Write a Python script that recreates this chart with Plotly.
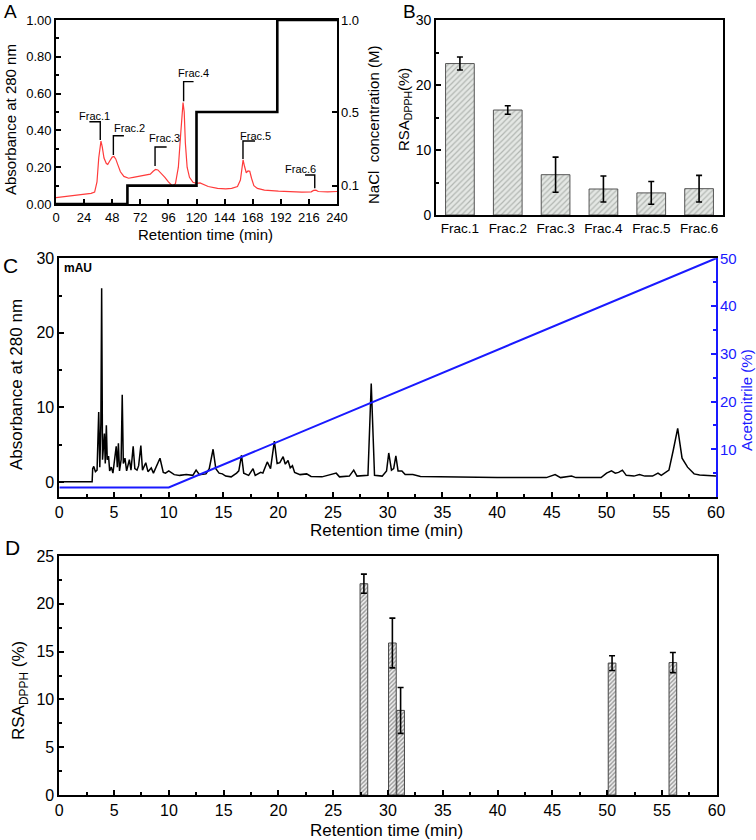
import plotly.graph_objects as go

W, H = 756, 840
FONT = "Liberation Sans, Arial, sans-serif"
BLUE = "#1a1aff"

# ---------------- Panel A data ----------------
a_time = [0, 10, 20, 30, 33, 35, 36.5, 37.8, 38.4, 39.5, 41, 43, 44.2, 46, 48, 49.5, 51, 53, 55, 58,
          62, 66, 72, 78, 80.5, 83, 85, 87, 90, 93, 96, 99.5, 102, 104.5, 106.5, 108.5, 109.5, 110.5,
          112, 114, 117, 120, 123, 126, 130, 138, 145, 150, 155, 157.5, 159, 159.8, 161, 162.5, 164,
          165.5, 167, 169, 172, 178, 190, 200, 210, 218, 220, 222, 224, 232, 240]
a_abs = [0.035, 0.042, 0.05, 0.058, 0.065, 0.12, 0.25, 0.335, 0.342, 0.31, 0.25, 0.22, 0.215, 0.235,
         0.255, 0.258, 0.245, 0.21, 0.175, 0.15, 0.14, 0.145, 0.152, 0.163, 0.162, 0.178, 0.188, 0.185,
         0.167, 0.145, 0.12, 0.098, 0.11, 0.2, 0.38, 0.551, 0.5, 0.33, 0.2, 0.145, 0.118, 0.112, 0.115,
         0.108, 0.095, 0.085, 0.082, 0.085, 0.095, 0.13, 0.2, 0.24, 0.205, 0.17, 0.18, 0.178, 0.14, 0.1,
         0.085, 0.075, 0.07, 0.066, 0.065, 0.066, 0.074, 0.075, 0.068, 0.066, 0.068]
nacl_step_time = [0, 61, 61, 120, 120, 189, 189, 240]
nacl_step_conc = [0, 0, 0.1, 0.1, 0.5, 0.5, 1.0, 1.0]
nacl_ticks = [0.1, 0.5, 1.0]
frac_names = ["Frac.1", "Frac.2", "Frac.3", "Frac.4", "Frac.5", "Frac.6"]
frac_mark_t = [37.8, 49.0, 84.6, 109.0, 159.7, 221]
frac_mark_low = [0.348, 0.266, 0.207, 0.558, 0.245, 0.085]
frac_mark_high = [0.447, 0.371, 0.31, 0.665, 0.342, 0.158]
frac_arm_end = [28.5, 58.0, 94.5, 117.5, 170, 212.7]
frac_text_t = [33.0, 62.5, 93.0, 117.5, 170.8, 209]
frac_text_y = [0.478, 0.413, 0.357, 0.71, 0.37, 0.188]

# ---------------- Panel B data ----------------
b_frac = ["Frac.1", "Frac.2", "Frac.3", "Frac.4", "Frac.5", "Frac.6"]
b_rsa = [23.3, 16.15, 6.2, 4.0, 3.4, 4.05]
b_err = [1.0, 0.65, 2.7, 2.0, 1.75, 2.05]

# ---------------- Panel C data ----------------
c_time = [0.0, 3.0, 3.05, 3.15, 3.3, 3.45, 3.6, 3.7, 3.8, 3.87, 3.95, 4.05, 4.12, 4.2, 4.3, 4.38, 4.5,
          4.6, 4.75, 4.9, 5.2, 5.3, 5.4, 5.5, 5.65, 5.75, 5.85, 6.0, 6.15, 6.4, 6.55, 6.75, 6.9, 7.1,
          7.25, 7.45, 7.6, 7.9, 8.1, 8.4, 8.6, 9.2, 9.5, 9.7, 10.0, 10.5, 11.0, 11.6, 12.2, 12.5, 12.8,
          13.4, 13.7, 14.05, 14.3, 14.6, 14.9, 15.2, 15.7, 16.2, 16.4, 16.65, 16.85, 17.3, 17.7, 17.9,
          18.4, 18.6, 19.0, 19.3, 19.65, 19.9, 20.15, 20.45, 20.65, 20.9, 21.1, 21.3, 21.5, 22.0, 22.6,
          23.0, 24.0, 25.3, 25.6, 26.5, 26.9, 27.2, 28.2, 28.5, 28.8, 29.5, 29.9, 30.1, 30.35, 30.55,
          30.75, 30.95, 31.3, 31.6, 32.3, 33.0, 34.5, 36.0, 38.0, 40.0, 42.0, 44.5, 45.3, 45.8, 46.8,
          47.2, 49.5, 50.0, 50.45, 50.8, 51.1, 51.45, 51.8, 52.5, 53.0, 53.5, 54.2, 54.7, 55.0, 55.7,
          56.1, 56.5, 56.9, 57.4, 58.0, 58.5, 60.0]
c_abs = [0.05, 0.05, 1.8, 2.1, 1.4, 1.6, 9.4, 2.0, 8.0, 26.0, 3.0, 5.0, 6.5, 2.5, 7.6, 3.0, 3.5,
         1.5, 2.0, 1.2, 4.8, 2.0, 5.2, 1.5, 3.0, 11.7, 2.5, 3.2, 1.5, 3.0, 1.6, 4.8, 1.8, 1.6,
         2.2, 4.9, 1.6, 2.6, 1.4, 1.9, 1.2, 3.2, 1.3, 1.2, 1.5, 1.0, 0.9, 1.0, 0.9, 1.6, 1.0,
         1.1, 1.8, 4.4, 1.8, 1.2, 1.1, 0.8, 0.7, 1.2, 1.5, 3.6, 1.2, 0.9, 1.8, 0.9,
         1.3, 1.2, 2.7, 1.8, 5.5, 2.5, 2.6, 3.4, 2.4, 2.9, 1.9, 2.2, 1.3, 1.0, 1.1,
         0.75, 0.7, 1.2, 0.7, 0.8, 1.6, 0.8, 0.9, 13.2, 0.9, 0.8, 1.5, 3.9, 1.6, 1.8,
         3.5, 1.5, 1.5, 1.0, 1.0, 0.75, 0.7, 0.7, 0.6, 0.6, 0.6, 0.6, 1.0, 0.6, 0.8,
         0.6, 0.6, 1.2, 1.5, 1.2, 1.3, 1.6, 0.9, 0.8, 1.0, 0.8, 0.8, 1.2, 0.9, 1.6,
         4.3, 7.2, 3.2, 2.0, 1.1, 0.95, 0.8]
gradient_time = [0, 10, 60]
gradient_acn = [2, 2, 50]

# ---------------- Panel D data ----------------
d_time = [27.8, 30.4, 31.15, 50.45, 56.0]
d_rsa = [22.1, 15.9, 8.85, 13.8, 13.85]
d_err = [1.0, 2.6, 2.4, 0.77, 1.05]


def px(x):
    return x / W


def py(y):
    return 1 - y / H


fig = go.Figure()

# Panel A
fig.add_trace(go.Scatter(x=a_time, y=a_abs, mode="lines", line=dict(color="#ff3b3b", width=1.2),
                         xaxis="x", yaxis="y"))
fig.add_trace(go.Scatter(x=nacl_step_time, y=nacl_step_conc, mode="lines",
                         line=dict(color="black", width=2.6), xaxis="x", yaxis="y2"))
bx, by = [], []
for t, lo, hi, arm in zip(frac_mark_t, frac_mark_low, frac_mark_high, frac_arm_end):
    bx += [t, t, arm, None]
    by += [lo, hi, hi, None]
fig.add_trace(go.Scatter(x=bx, y=by, mode="lines", line=dict(color="black", width=1.4),
                         xaxis="x", yaxis="y"))

# Panel B
fig.add_trace(go.Bar(x=b_frac, y=b_rsa, width=0.6, xaxis="x2", yaxis="y3",
                     marker=dict(color="#e4e7e4", line=dict(color="#555555", width=1),
                                 pattern=dict(shape="/", size=4, solidity=0.3,
                                              fgcolor="#7f867f", bgcolor="#e4e7e4")),
                     error_y=dict(type="data", array=b_err, color="black", thickness=1.6, width=3)))

# Panel C
fig.add_trace(go.Scatter(x=c_time, y=c_abs, mode="lines", line=dict(color="black", width=1.5),
                         xaxis="x3", yaxis="y4"))
fig.add_trace(go.Scatter(x=gradient_time, y=gradient_acn, mode="lines", line=dict(color=BLUE, width=2),
                         xaxis="x3", yaxis="y5"))

# Panel D
fig.add_trace(go.Bar(x=d_time, y=d_rsa, width=0.7, xaxis="x4", yaxis="y6",
                     marker=dict(color="#eeeeee", line=dict(color="#444444", width=1),
                                 pattern=dict(shape="/", size=3, solidity=0.45,
                                              fgcolor="#444444", bgcolor="#eeeeee")),
                     error_y=dict(type="data", array=d_err, color="black", thickness=1.6, width=3)))

ax_common = dict(showgrid=False, zeroline=False, showline=True, linecolor="black", linewidth=1.8,
                 ticks="inside", tickcolor="black", tickwidth=1.5, ticklen=5, automargin=False,
                 tickfont=dict(family=FONT, color="black"))


def axis(**kw):
    d = dict(ax_common)
    d.update(kw)
    return d


fig.update_layout(
    width=W, height=H, margin=dict(l=0, r=0, t=0, b=0),
    paper_bgcolor="white", plot_bgcolor="white", showlegend=False,
    font=dict(family=FONT, color="black"),
    # A
    xaxis=axis(domain=[px(56), px(337)], range=[0, 240], tickvals=list(range(0, 241, 24)),
               mirror=True, anchor="y", tickfont=dict(family=FONT, size=13, color="black")),
    yaxis=axis(domain=[py(204), py(20)], range=[0, 1], tickvals=[0, 0.2, 0.4, 0.6, 0.8, 1.0],
               tickformat=".2f", mirror=True, anchor="x",
               minor=dict(tickvals=[0.1, 0.3, 0.5, 0.7, 0.9], ticks="inside", ticklen=3,
                          tickwidth=1.5, tickcolor="black"),
               tickfont=dict(family=FONT, size=13, color="black")),
    yaxis2=axis(overlaying="y", side="right", anchor="x", range=[0, 1], showline=False,
                tickvals=nacl_ticks, tickformat=".1f", ticklabelstandoff=3,
                tickfont=dict(family=FONT, size=13, color="black")),
    # B
    xaxis2=axis(domain=[px(436), px(723)], range=[-0.5, 5.5], anchor="y3", mirror=True, ticks="",
                tickfont=dict(family=FONT, size=13.5, color="black")),
    yaxis3=axis(domain=[py(215), py(20)], range=[0, 30], tickvals=[0, 10, 20, 30], anchor="x2",
                mirror=True,
                minor=dict(tickvals=[5, 15, 25], ticks="inside", ticklen=3, tickwidth=1.5,
                           tickcolor="black"),
                tickfont=dict(family=FONT, size=14, color="black")),
    # C
    xaxis3=axis(domain=[px(59.3), px(716)], range=[0, 60], dtick=5, anchor="y4", mirror=True,
                minor=dict(dtick=2.5, ticks="inside", ticklen=3, tickwidth=1.5, tickcolor="black"),
                tickfont=dict(family=FONT, size=16, color="black")),
    yaxis4=axis(domain=[py(497), py(258.3)], range=[-2.0, 30], tickvals=[0, 10, 20, 30],
                anchor="x3",
                minor=dict(tickvals=[5, 15, 25], ticks="inside", ticklen=3, tickwidth=1.5,
                           tickcolor="black"),
                tickfont=dict(family=FONT, size=16, color="black")),
    yaxis5=axis(overlaying="y4", side="right", anchor="x3", range=[0, 50],
                tickvals=[10, 20, 30, 40, 50], linecolor=BLUE, tickcolor=BLUE, ticks="inside",
                ticklabelstandoff=-1,
                minor=dict(tickvals=[5, 15, 25, 35, 45], ticks="inside", ticklen=3, tickwidth=1.5,
                           tickcolor=BLUE),
                tickfont=dict(family=FONT, size=15, color=BLUE)),
    # D
    xaxis4=axis(domain=[px(59.3), px(716.7)], range=[0, 60], dtick=5, anchor="y6", mirror=True,
                minor=dict(dtick=2.5, ticks="inside", ticklen=3, tickwidth=1.5, tickcolor="black"),
                tickfont=dict(family=FONT, size=16, color="black")),
    yaxis6=axis(domain=[py(795), py(556)], range=[0, 25], dtick=5, anchor="x4", mirror=True,
                minor=dict(dtick=2.5, ticks="inside", ticklen=3, tickwidth=1.5, tickcolor="black"),
                tickfont=dict(family=FONT, size=16, color="black")),
)

ann = []


def paper_text(x, y, text, size, angle=0, color="black", bold=False):
    ann.append(dict(xref="paper", yref="paper", x=px(x), y=py(y), text=("<b>%s</b>" % text) if bold else text,
                    showarrow=False, textangle=angle, xanchor="center", yanchor="middle",
                    font=dict(family=FONT, size=size, color=color)))


for name, t, yv in zip(frac_names, frac_text_t, frac_text_y):
    ann.append(dict(xref="x", yref="y", x=t, y=yv, text=name, showarrow=False,
                    xanchor="center", yanchor="middle", font=dict(family=FONT, size=11, color="black")))

paper_text(10, 12, "A", 19)
paper_text(409, 12, "B", 19)
paper_text(10, 265, "C", 21)
paper_text(12, 547, "D", 21)
paper_text(78, 268, "mAU", 12, bold=True)

paper_text(11, 120, "Absorbance at 280 nm", 15, angle=-90)
paper_text(373, 125, "NaCl  concentration (M)", 15, angle=-90)
paper_text(205, 234, "Retention time (min)", 15)
paper_text(405, 110, "RSA<sub>DPPH</sub>(%)", 15, angle=-90)
paper_text(17, 385, "Absorbance at 280 nm", 17, angle=-90)
paper_text(746, 400, "Acetonitrile (%)", 15, angle=-90, color=BLUE)
paper_text(387, 830, "Retention time (min)", 17)
paper_text(20, 691, "RSA<sub>DPPH</sub> (%)", 17, angle=-90)
paper_text(387, 530, "Retention time (min)", 17)

fig.update_layout(annotations=ann)
fig.write_html("out.html", config={"displayModeBar": False},
               post_script="document.body.style.margin='0';document.body.style.padding='0';"
                           "document.documentElement.style.overflow='hidden';")
